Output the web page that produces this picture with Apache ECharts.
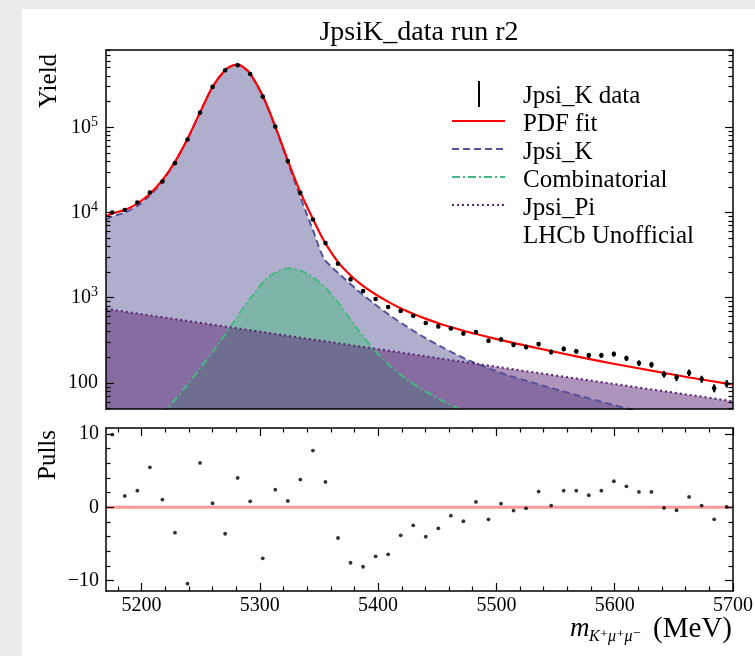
<!DOCTYPE html>
<html><head><meta charset="utf-8">
<script src="https://cdn.jsdelivr.net/npm/echarts@6/dist/echarts.min.js"></script>
<style>
html,body{margin:0;padding:0;background:#ebebeb;overflow:hidden;}
#card{position:absolute;left:22px;top:9px;width:733px;height:647px;background:#fff;}
#chart{position:absolute;left:0;top:0;width:755px;height:656px;}
</style></head><body>
<div id="card"></div><div id="chart"></div>
<script>
// ---- data ----
const binCenters = [5175.3,5185.9,5196.5,5207.1,5217.7,5228.3,5238.9,5249.5,5260.1,5270.7,
  5281.3,5291.9,5302.5,5313.1,5323.7,5334.3,5344.9,5355.5,5366.1,5376.7,
  5387.3,5397.9,5408.5,5419.1,5429.7,5440.3,5450.9,5461.5,5472.1,5482.7,
  5493.3,5503.9,5514.5,5525.1,5535.7,5546.3,5556.9,5567.5,5578.1,5588.7,
  5599.3,5609.9,5620.5,5631.1,5641.7,5652.3,5662.9,5673.5,5684.1,5694.7];
const dataYield = [10000,10690,13090,17180,23120,37930,71780,148600,297800,466700,
  534600,422700,229100,101900,40090,17020,8279,4375,2506,1641,
  1199,966,778,698,615,505,461,437,381,396,
  313,324,280,264,286,231,251,235,211,211,
  219,195,171,164,127,116,132,111,87,98];
const pulls = [9.9,1.55,2.27,5.45,1.05,-3.45,-10.4,6.05,0.55,-3.6,
  4.0,0.82,-6.95,2.4,0.86,3.77,7.73,3.45,-4.18,-7.55,
  -8.1,-6.68,-6.4,-3.82,-2.45,-4.0,-2.86,-1.14,-1.9,0.73,
  -1.64,0.5,-0.45,-0.14,2.14,0.23,2.27,2.27,1.64,2.27,
  3.55,2.86,2.09,2.09,-0.09,-0.4,1.41,0.23,-1.64,0.05];

const fitMass = [5170,5175.3,5185.9,5196.5,5207.1,5217.7,5228.3,5238.9,5249.5,5260.1,
  5270.7,5276,5281.3,5286.6,5291.9,5302.5,5313.1,5323.7,5334.3,5345.3,
  5354,5366,5377,5387,5398,5409,5419,5430,5440,5451,
  5462,5472,5483,5493,5504,5515,5525,5536,5557,5578,
  5599,5620,5642,5663,5684,5700];
const fitYield = [8970,9772,10720,12740,16600,23990,39360,73280,149600,298500,
  469900,524800,543300,501200,426600,234400,102300,40740,17180,8204,
  4721,2630,1811,1384,1091,889,753,644,569,502,
  450,410,375,346,318,294,274,254,220,192,
  168,149,131,116,104,96];

const kMass = [5170,5175.3,5185.9,5196.5,5207.1,5217.7,5228.3,5238.9,5249.5,5260.1,
  5270.7,5276,5281.3,5286.6,5291.9,5302.5,5313.1,5323.7,5334.3,5345,
  5353.8,5360.8,5367.9,5382,5396,5410.2,5424.3,5438.3,5452.5,5466.6,
  5480.6,5494.7,5508.9,5528.6,5539.8,5568.1,5596.2,5607.2,5650,5700];
const kYield = [8204,9016,9950,11970,15850,23280,38820,72780,149300,297800,
  468800,523600,542000,500000,424600,231700,100000,38900,15140,6166,
  2951,2291,1862,1245,865,619,458,348,270,214,
  174,146,124,103,92.7,71.9,56.6,51.6,36.9,25.5];

const combMass = [5200,5222.7,5236.8,5249.5,5263.6,5277.7,5291.8,5305.9,5316,5325.6,
  5339.7,5353.8,5362.2,5367.9,5382,5396,5410.2,5424.3,5438.3,5452.5,5466.6,5490];
const combYield = [21.4,51.3,88.1,147.9,269.2,512.9,977,1679,2065,2213,
  1928,1380,1023,813,437,251,158,110,82.2,63.8,50.9,34.7];

const piMass = [5170,5444,5512,5700];
const piYield = [740,202,146,61];

const xTicksMajor = [5200,5300,5400,5500,5600,5700];
const xTicksMinor = [5180,5220,5240,5260,5280,5320,5340,5360,5380,5420,5440,5460,5480,5520,5540,5560,5580,5620,5640,5660,5680];
const yDecades = [100,1000,10000,100000];
const pullTicksMajor = [-10,0,10];
const pullTicksMinor = [-8,-6,-4,-2,2,4,6,8];

// ---- helpers ----
const L = v => Math.log10(v);
const yMin = L(49.5), yMax = L(807000);
const logMinor = [];
for (let n = 1; n <= 5; n++) for (let k = 2; k <= 9; k++) {
  const lv = L(k * Math.pow(10, n));
  if (lv >= yMin && lv <= yMax) logMinor.push(lv);
}
const FONT = "'Liberation Serif','DejaVu Serif',serif";
const GL = 106, GW = 627;

function xAx(grid, pos, opts) {
  return Object.assign({
    type: 'value', gridIndex: grid, position: pos, min: 5170, max: 5700, z: 10,
    axisLine: {show: true, onZero: false, lineStyle: {color: '#000', width: 1.5}},
    axisTick: {show: false}, axisLabel: {show: false}, splitLine: {show: false}
  }, opts || {});
}
function yAx(grid, pos, min, max, opts) {
  return Object.assign({
    type: 'value', gridIndex: grid, position: pos, min: min, max: max, z: 10,
    axisLine: {show: true, onZero: false, lineStyle: {color: '#000', width: 1.5}},
    axisTick: {show: false}, axisLabel: {show: false}, splitLine: {show: false}
  }, opts || {});
}
const tick = (vals, len) => ({show: true, inside: true, length: len, customValues: vals, lineStyle: {color: '#000', width: 1.2}});
const noLine = {show: false, onZero: false};

const pMin = -11.4, pMax = 10.8;
const gridBase = {containLabel: false, outerBoundsMode: 'none'};
const smoothOpt = 0.3;

const chart = echarts.init(document.getElementById('chart'), null, {renderer: 'canvas'});
const option = {
  backgroundColor: 'transparent',
  animation: false,
  grid: [
    Object.assign({left: GL, top: 50, width: GW, height: 359}, gridBase),
    Object.assign({left: GL, top: 50, width: GW, height: 359}, gridBase),
    Object.assign({left: GL, top: 428, width: GW, height: 163}, gridBase),
    Object.assign({left: GL, top: 428, width: GW, height: 163}, gridBase)
  ],
  xAxis: [
    xAx(0, 'bottom'),
    xAx(0, 'top'),
    xAx(1, 'bottom', {show: false, axisLine: noLine}),
    xAx(2, 'bottom', {axisTick: tick(xTicksMajor, 8), axisLabel: {show: true, customValues: xTicksMajor, margin: 5, color: '#000', fontSize: 20, fontFamily: FONT, formatter: v => String(Math.round(v))}}),
    xAx(2, 'top', {axisTick: tick(xTicksMajor, 8)}),
    xAx(3, 'bottom', {axisLine: noLine, axisTick: tick(xTicksMinor, 4.5)}),
    xAx(3, 'top', {axisLine: noLine, axisTick: tick(xTicksMinor, 4.5)})
  ],
  yAxis: [
    yAx(0, 'left', yMin, yMax, {
      axisTick: tick(yDecades.map(L), 8),
      axisLabel: {show: true, customValues: yDecades.map(L), margin: 8, color: '#000', fontSize: 20, fontFamily: FONT,
        formatter: v => { const e = Math.round(v); return e === 2 ? '100' : '{b|10}{s|' + e + '}'; },
        rich: {b: {fontSize: 20, fontFamily: FONT, color: '#000', lineHeight: 24},
               s: {fontSize: 14, fontFamily: FONT, color: '#000', verticalAlign: 'top', lineHeight: 14}}}
    }),
    yAx(0, 'right', yMin, yMax, {axisTick: tick(yDecades.map(L), 8)}),
    yAx(1, 'left', yMin, yMax, {axisLine: noLine, axisTick: tick(logMinor, 4.5)}),
    yAx(1, 'right', yMin, yMax, {axisLine: noLine, axisTick: tick(logMinor, 4.5)}),
    yAx(2, 'left', pMin, pMax, {
      axisTick: tick(pullTicksMajor, 8),
      axisLabel: {show: true, customValues: pullTicksMajor, margin: 7, color: '#000', fontSize: 20, fontFamily: FONT,
        formatter: v => v < 0 ? '\u2212' + Math.abs(v) : String(v)}
    }),
    yAx(2, 'right', pMin, pMax, {axisTick: tick(pullTicksMajor, 8)}),
    yAx(3, 'left', pMin, pMax, {axisLine: noLine, axisTick: tick(pullTicksMinor, 4.5)}),
    yAx(3, 'right', pMin, pMax, {axisLine: noLine, axisTick: tick(pullTicksMinor, 4.5)})
  ],
  series: [
    // filled components (K, Combinatorial, Jpsi_Pi on top)
    {type: 'line', xAxisIndex: 0, yAxisIndex: 0, data: kMass.map((x, i) => [x, L(kYield[i])]),
      smooth: smoothOpt, symbol: 'none', lineStyle: {width: 0}, clip: true,
      areaStyle: {color: 'rgba(79,75,144,0.45)', opacity: 1, origin: 'start'}, z: 2, silent: true},
    {type: 'line', xAxisIndex: 0, yAxisIndex: 0, data: combMass.map((x, i) => [x, L(combYield[i])]),
      smooth: smoothOpt, symbol: 'none', lineStyle: {width: 0}, clip: true,
      areaStyle: {color: 'rgba(78,188,131,0.5)', opacity: 1, origin: 'start'}, z: 2, silent: true},
    {type: 'line', xAxisIndex: 0, yAxisIndex: 0, data: piMass.map((x, i) => [x, L(piYield[i])]),
      symbol: 'none', lineStyle: {width: 0}, clip: true,
      areaStyle: {color: 'rgba(93,41,119,0.5)', opacity: 1, origin: 'start'}, z: 2, silent: true},
    // component lines
    {type: 'line', xAxisIndex: 0, yAxisIndex: 0, data: kMass.map((x, i) => [x, L(kYield[i])]),
      smooth: smoothOpt, symbol: 'none', clip: true,
      lineStyle: {color: '#55529c', width: 2, type: [7, 4]}, z: 3, silent: true},
    {type: 'line', xAxisIndex: 0, yAxisIndex: 0, data: combMass.map((x, i) => [x, L(combYield[i])]),
      smooth: smoothOpt, symbol: 'none', clip: true,
      lineStyle: {color: '#45b882', width: 2, type: [8, 3, 2, 3]}, z: 3, silent: true},
    {type: 'line', xAxisIndex: 0, yAxisIndex: 0, data: piMass.map((x, i) => [x, L(piYield[i])]),
      symbol: 'none', clip: true,
      lineStyle: {color: '#5d2977', width: 2.2, type: [2, 3]}, z: 3, silent: true},
    // total fit
    {type: 'line', xAxisIndex: 0, yAxisIndex: 0, data: fitMass.map((x, i) => [x, L(fitYield[i])]),
      smooth: smoothOpt, symbol: 'none', clip: true,
      lineStyle: {color: '#ff0000', width: 2.2}, z: 4, silent: true},
    // data with error bars
    {type: 'custom', xAxisIndex: 0, yAxisIndex: 0, z: 6, clip: true, silent: true,
      data: binCenters.map((x, i) => [x, dataYield[i]]),
      renderItem: (params, api) => {
        const x = api.value(0), v = api.value(1), e = Math.sqrt(v);
        const p = api.coord([x, L(v)]);
        const hi = api.coord([x, L(v + e)]);
        const lo = api.coord([x, L(v - e)]);
        return {type: 'group', children: [
          {type: 'line', shape: {x1: p[0], y1: hi[1], x2: p[0], y2: lo[1]}, style: {stroke: '#000', lineWidth: 2.2}},
          {type: 'circle', shape: {cx: p[0], cy: p[1], r: 2.3}, style: {fill: '#000'}}
        ]};
      }},
    // pulls
    {type: 'line', xAxisIndex: 3, yAxisIndex: 4, data: [[5170, 0], [5700, 0]], symbol: 'none',
      lineStyle: {color: 'rgba(245,70,70,0.55)', width: 3}, z: 3, silent: true},
    {type: 'scatter', xAxisIndex: 3, yAxisIndex: 4, data: binCenters.map((x, i) => [x, pulls[i]]),
      symbol: 'circle', symbolSize: 3.8, itemStyle: {color: '#000'}, z: 5, silent: true}
  ],
  graphic: (function () {
    const els = [];
    const txt = (x, y, text, size, align, extra) => Object.assign({
      type: 'text', x: x, y: y, silent: true, z: 100,
      style: {text: text, fontSize: size, fontFamily: FONT, fill: '#000',
        align: align, textAlign: align, verticalAlign: 'middle', textVerticalAlign: 'middle'}
    }, extra || {});
    els.push(txt(419, 33, 'JpsiK_data run r2', 28, 'center'));
    els.push(txt(49, 81, 'Yield', 25, 'center', {rotation: Math.PI / 2}));
    els.push(txt(48, 455, 'Pulls', 25, 'center', {rotation: Math.PI / 2}));
    // x axis name
    const m = txt(570, 629, 'm', 27, 'left');
    m.style.fontStyle = 'italic';
    els.push(m);
    const sub = txt(589, 637, 'K\u207A\u03BC\u207A\u03BC\u207B', 16, 'left');
    sub.style.fontStyle = 'italic';
    els.push(sub);
    els.push(txt(732, 629, '(MeV)', 29, 'right'));
    // legend
    const rows = [96, 124, 152, 180, 208, 236];
    const labels = ['Jpsi_K data', 'PDF fit', 'Jpsi_K', 'Combinatorial', 'Jpsi_Pi', 'LHCb Unofficial'];
    labels.forEach((t, i) => els.push(txt(523, rows[i], t, 25, 'left')));
    const lx1 = 452, lx2 = 505;
    els.push({type: 'line', silent: true, z: 100, shape: {x1: 479, y1: 81, x2: 479, y2: 107}, style: {stroke: '#000', lineWidth: 2}});
    els.push({type: 'line', silent: true, z: 100, shape: {x1: lx1, y1: rows[1] - 3, x2: lx2, y2: rows[1] - 3}, style: {stroke: '#ff0000', lineWidth: 2.2}});
    els.push({type: 'line', silent: true, z: 100, shape: {x1: lx1, y1: rows[2] - 3, x2: lx2, y2: rows[2] - 3}, style: {stroke: '#55529c', lineWidth: 2, lineDash: [7, 4]}});
    els.push({type: 'line', silent: true, z: 100, shape: {x1: lx1, y1: rows[3] - 3, x2: lx2, y2: rows[3] - 3}, style: {stroke: '#45b882', lineWidth: 2, lineDash: [8, 3, 2, 3]}});
    els.push({type: 'line', silent: true, z: 100, shape: {x1: lx1, y1: rows[4] - 3, x2: lx2, y2: rows[4] - 3}, style: {stroke: '#5d2977', lineWidth: 2.2, lineDash: [2, 3]}});
    return els;
  })()
};
chart.setOption(option);
</script>
</body></html>
